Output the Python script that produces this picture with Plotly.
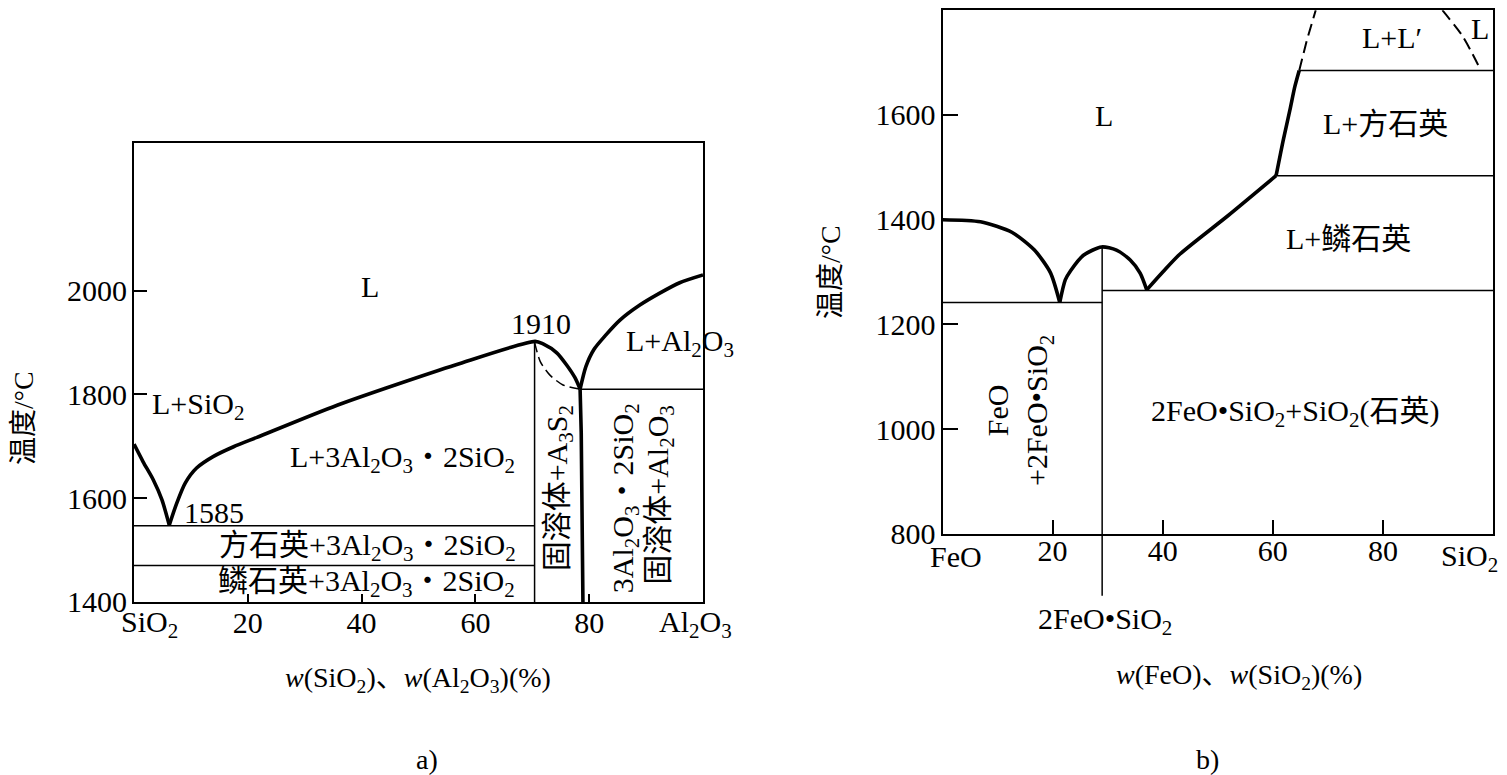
import plotly.graph_objects as go

# ---------------- Panel a: SiO2 - Al2O3 (x = % Al2O3, y = °C) ----------------
a_liq_left_x = [0, 1.6, 3.4, 4.9, 6.2]
a_liq_left_t = [1704, 1670, 1635, 1597, 1548]
a_liq_mid_x = [6.2, 7.5, 9.0, 11.0, 13.9, 17.5, 21.6, 35.7, 56.6, 70.5, 71.9, 74.3, 76.0, 77.5, 78.4]
a_liq_mid_t = [1548, 1590, 1629, 1658, 1680, 1699, 1717, 1779, 1857, 1902, 1897, 1880, 1857, 1832, 1810]
a_solid_x = [78.4, 78.6, 78.9]
a_solid_t = [1810, 1726, 1400]
a_liq_right_x = [78.4, 79.4, 80.8, 82.9, 85.4, 88.9, 92.4, 95.9, 100]
a_liq_right_t = [1810, 1853, 1886, 1914, 1943, 1972, 1995, 2015, 2030]
a_dash_x = [70.4, 71.4, 73.1, 75.4, 78.4]
a_dash_t = [1900, 1863, 1837, 1818, 1810]
a_mullite_x = 70.4
a_mullite_top_t = 1900
a_eut1_t = 1547
a_crist_t = 1470
a_eut2_x = 78.4
a_eut2_t = 1810
a_xticks = [20, 40, 60, 80]
a_yticks = [1400, 1600, 1800, 2000]
a_xrange = [0, 100]
a_yrange = [1400, 2284]

# ---------------- Panel b: FeO - SiO2 (x = % SiO2, y = °C) ----------------
b_liq1_x = [0, 6.9, 12.6, 16.7, 19.6, 21.3]
b_liq1_t = [1400, 1396, 1376, 1342, 1299, 1242]
b_liq2_x = [21.3, 22.3, 23.3, 25.6, 28.9, 31.6, 34.1, 35.9, 37.1]
b_liq2_t = [1242, 1285, 1303, 1332, 1348, 1342, 1323, 1298, 1266]
b_liq3_x = [37.1, 40.1, 43.1, 51.9, 60.6]
b_liq3_t = [1266, 1301, 1334, 1408, 1484]
b_liq4_x = [60.6, 61.9, 63.1, 64.0, 64.8]
b_liq4_t = [1484, 1552, 1609, 1654, 1685]
b_dash1_x = [64.8, 66.2, 67.8]
b_dash1_t = [1685, 1743, 1800]
b_dash2_x = [90.8, 94.5, 97.8]
b_dash2_t = [1800, 1750, 1685]
b_fayalite_x = 29.0
b_fayalite_top_t = 1348
b_eut1_t = 1242
b_eut2_t = 1265
b_trid_x = 60.6
b_trid_t = 1484
b_crist_x = 64.8
b_crist_t = 1685
b_xticks = [20, 40, 60, 80]
b_yticks = [800, 1000, 1200, 1400, 1600, 1800]
b_xrange = [0, 100]
b_yrange = [800, 1800]

# layout helpers: the html body has an 8px margin, and the captured page is
# slightly compressed vertically; positions below are given in reference pixels
OX, OY = 8, 8
SY = 0.9785
W, H = 1499, 776
FONT = "Liberation Serif, Noto Sans CJK SC, serif"
THICK = 3.6
THIN = 1.5


def px(X):
    return (X - OX) / W


def py(Y):
    return 1 - (Y / SY - OY) / H


fig = go.Figure()


def line(x, y, xa, ya, width, dash=None, smooth=False):
    ln = dict(color="black", width=width)
    if dash:
        ln["dash"] = dash
    if smooth:
        ln["shape"] = "spline"
        ln["smoothing"] = 0.7
    fig.add_trace(go.Scatter(x=x, y=y, xaxis=xa, yaxis=ya, mode="lines",
                             line=ln, hoverinfo="skip", showlegend=False))


# Panel a curves
line(a_liq_left_x, a_liq_left_t, "x", "y", THICK, smooth=True)
line(a_liq_mid_x, a_liq_mid_t, "x", "y", THICK, smooth=True)
line(a_solid_x, a_solid_t, "x", "y", THICK)
line(a_liq_right_x, a_liq_right_t, "x", "y", THICK, smooth=True)
line(a_dash_x, a_dash_t, "x", "y", THIN, dash="10px,5px", smooth=True)
line([a_mullite_x, a_mullite_x], [a_mullite_top_t, a_yrange[0]], "x", "y", THIN)
line([a_xrange[0], a_mullite_x], [a_eut1_t, a_eut1_t], "x", "y", THIN)
line([a_xrange[0], a_mullite_x], [a_crist_t, a_crist_t], "x", "y", THIN)
line([a_eut2_x, a_xrange[1]], [a_eut2_t, a_eut2_t], "x", "y", THIN)

# Panel b curves
line(b_liq1_x, b_liq1_t, "x2", "y2", THICK, smooth=True)
line(b_liq2_x, b_liq2_t, "x2", "y2", THICK, smooth=True)
line(b_liq3_x, b_liq3_t, "x2", "y2", THICK, smooth=True)
line(b_liq4_x, b_liq4_t, "x2", "y2", THICK, smooth=True)
line(b_dash1_x, b_dash1_t, "x2", "y2", 2, dash="12px,6px")
line(b_dash2_x, b_dash2_t, "x2", "y2", 2, dash="12px,6px", smooth=True)
line([b_fayalite_x, b_fayalite_x], [b_fayalite_top_t, b_yrange[0]], "x2", "y2", THIN)
line([b_xrange[0], b_fayalite_x], [b_eut1_t, b_eut1_t], "x2", "y2", THIN)
line([b_fayalite_x, b_xrange[1]], [b_eut2_t, b_eut2_t], "x2", "y2", THIN)
line([b_trid_x, b_xrange[1]], [b_trid_t, b_trid_t], "x2", "y2", THIN)
line([b_crist_x, b_xrange[1]], [b_crist_t, b_crist_t], "x2", "y2", THIN)

# stub of the compound line below the axis of panel b
fig.add_shape(type="line", xref="x2", yref="y2 domain", x0=b_fayalite_x, x1=b_fayalite_x,
              y0=-0.118, y1=0, line=dict(color="black", width=THIN))

axis_common = dict(showline=True, mirror=True, linecolor="black", linewidth=2,
                   showgrid=False, zeroline=False, ticks="inside", tickcolor="black",
                   tickwidth=1.5, tickfont=dict(family=FONT, size=30, color="black"),
                   fixedrange=True)

fig.update_layout(
    width=W, height=H, autosize=False,
    margin=dict(l=0, r=0, t=0, b=0),
    paper_bgcolor="white", plot_bgcolor="white",
    showlegend=False,
    xaxis=dict(domain=[px(134), px(703)], range=a_xrange, anchor="y",
               tickvals=a_xticks, ticktext=[str(v) for v in a_xticks], ticklen=8,
               ticklabelstandoff=-7, **axis_common),
    yaxis=dict(domain=[py(602), py(143)], range=a_yrange, anchor="x",
               tickvals=a_yticks, ticktext=[str(v) for v in a_yticks], ticklen=13,
               ticklabelstandoff=-1, **axis_common),
    xaxis2=dict(domain=[px(942.5), px(1493)], range=b_xrange, anchor="y2",
                tickvals=b_xticks, ticktext=[str(v) for v in b_xticks], ticklen=14,
                ticklabelstandoff=-11, **axis_common),
    yaxis2=dict(domain=[py(534), py(10)], range=b_yrange, anchor="x2",
                tickvals=b_yticks, ticktext=[str(v) for v in b_yticks], ticklen=15,
                ticklabelstandoff=-1, **axis_common),
)


def ann(text, x, y, xref, yref, size=30, angle=0, xanchor="center", yanchor="middle"):
    fig.add_annotation(text=text, x=x, y=y, xref=xref, yref=yref, showarrow=False,
                       textangle=angle, xanchor=xanchor, yanchor=yanchor,
                       font=dict(family=FONT, size=size, color="black"))


# Panel a region labels
ann("L", 41.5, 2007, "x", "y")
ann("1910", 71.5, 1936, "x", "y")
ann("L+Al<sub>2</sub>O<sub>3</sub>", 86.1, 1898, "x", "y", xanchor="left")
ann("L+SiO<sub>2</sub>", 2.8, 1778, "x", "y", xanchor="left")
ann("L+3Al<sub>2</sub>O<sub>3</sub>・2SiO<sub>2</sub>", 47.2, 1676, "x", "y")
ann("1585", 14.1, 1573, "x", "y")
ann("方石英+3Al<sub>2</sub>O<sub>3</sub>・2SiO<sub>2</sub>", 41.1, 1505, "x", "y")
ann("鳞石英+3Al<sub>2</sub>O<sub>3</sub>・2SiO<sub>2</sub>", 40.8, 1437, "x", "y")
ann("固溶体+A<sub>3</sub>S<sub>2</sub>", 74.7, 1619, "x", "y", angle=-90)
ann("3Al<sub>2</sub>O<sub>3</sub>・2SiO<sub>2</sub>", 86.3, 1600, "x", "y", angle=-90)
ann("固溶体+Al<sub>2</sub>O<sub>3</sub>", 92.4, 1606, "x", "y", angle=-90)
ann("SiO<sub>2</sub>", 2.8, py(624), "x", "paper")
ann("Al<sub>2</sub>O<sub>3</sub>", 98.7, py(624), "x", "paper")
ann("<i>w</i>(SiO<sub>2</sub>)、<i>w</i>(Al<sub>2</sub>O<sub>3</sub>)(%)", px(418), py(680),
    "paper", "paper", size=28)
ann("温度/°C", px(23), py(418), "paper", "paper", size=28, angle=-90)
ann("a)", px(427), py(760), "paper", "paper", size=28)

# Panel b region labels
ann("L", 29.3, 1598, "x2", "y2")
ann("L+L′", 81.6, 1747, "x2", "y2")
ann("L", 97.7, 1765, "x2", "y2")
ann("L+方石英", 80.4, 1583, "x2", "y2")
ann("L+鳞石英", 73.8, 1365, "x2", "y2")
ann("2FeO•SiO<sub>2</sub>+SiO<sub>2</sub>(石英)", 64.0, 1030, "x2", "y2")
ann("FeO<br>+2FeO•SiO<sub>2</sub>", 14.1, 1035, "x2", "y2", angle=-90)
ann("FeO", 2.4, py(557), "x2", "paper")
ann("SiO<sub>2</sub>", 95.8, py(558), "x2", "paper")
ann("2FeO•SiO<sub>2</sub>", 29.5, py(621), "x2", "paper")
ann("<i>w</i>(FeO)、<i>w</i>(SiO<sub>2</sub>)(%)", px(1239), py(677), "paper", "paper", size=28)
ann("温度/°C", px(830), py(272), "paper", "paper", size=28, angle=-90)
ann("b)", px(1207), py(760), "paper", "paper", size=28)

fig.write_html("out.html")
